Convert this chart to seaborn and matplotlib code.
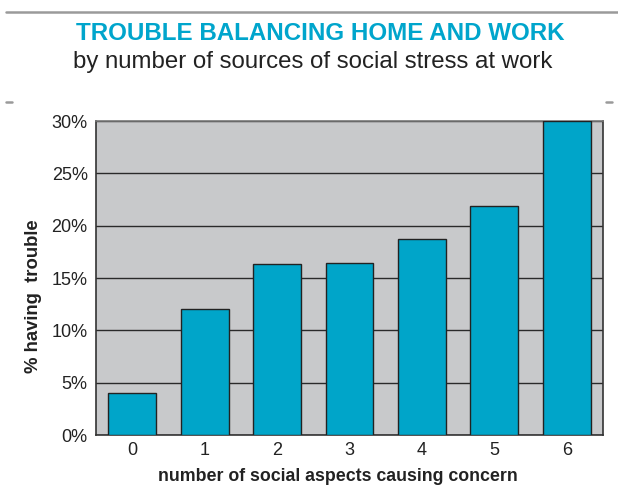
import matplotlib
matplotlib.use("Agg")
import matplotlib.pyplot as plt
from matplotlib.lines import Line2D
from matplotlib.ticker import FuncFormatter
import seaborn as sns
import pandas as pd

# Share of workers having trouble balancing home and work
sources = ["0", "1", "2", "3", "4", "5", "6"]
pct_trouble = [4.0, 12.0, 16.3, 16.4, 18.7, 21.9, 30.0]
y_ticks = [0, 5, 10, 15, 20, 25, 30]

df = pd.DataFrame({"sources": sources, "pct": pct_trouble})

sns.set_theme(style="white")
plt.rcParams["font.family"] = ["Liberation Sans", "DejaVu Sans"]

BAR = "#00a5c9"
BG = "#c8c9cb"
TITLE = "#00a5cc"

fig = plt.figure(figsize=(6.18, 4.94), dpi=100)
ax = fig.add_axes([96 / 618, 1 - 435 / 494, 507 / 618, 314 / 494])
ax.set_facecolor(BG)

sns.barplot(data=df, x="sources", y="pct", color=BAR, width=0.66,
            edgecolor="#222222", linewidth=1.0, saturation=1, ax=ax, zorder=3)

ax.set_ylim(0, 30)
ax.set_xlim(-0.5, 6.5)
ax.set_yticks(y_ticks)
ax.yaxis.set_major_formatter(FuncFormatter(lambda v, _: f"{v:.0f}%"))
ax.yaxis.grid(True, color="#2a2a2a", linewidth=1.0, zorder=1)
ax.set_axisbelow(True)
ax.tick_params(axis="both", length=0, labelsize=13, colors="#222222")
ax.tick_params(axis="x", pad=5)
ax.tick_params(axis="y", pad=6)

for side in ["left", "bottom", "right"]:
    ax.spines[side].set_color("#333333")
    ax.spines[side].set_linewidth(1.2)
ax.spines["top"].set_color("#777777")
ax.spines["top"].set_linewidth(1.2)

ax.set_xlabel("number of social aspects causing concern", fontsize=12.8,
              fontweight="semibold", color="#222222", labelpad=8)
ax.xaxis.set_label_coords(0.477, -0.105)
ax.set_ylabel("% having  trouble", fontsize=13.3, fontweight="bold",
              color="#222222", labelpad=10)
ax.yaxis.set_label_coords(-0.106, 0.443)

fig.text(320 / 618, 1 - 33 / 494, "TROUBLE BALANCING HOME AND WORK",
         ha="center", va="center", fontsize=17.4, fontweight="bold",
         color=TITLE)
fig.text(313 / 618, 1 - 62 / 494,
         "by number of sources of social stress at work",
         ha="center", va="center", fontsize=17.3, color="#222222")

# Decorative rules
fig.add_artist(Line2D([6 / 618, 1.0], [1 - 12 / 494] * 2, color="#9a9a9a",
                      linewidth=1.8, transform=fig.transFigure))
for x0 in (6, 606):
    fig.add_artist(Line2D([x0 / 618, (x0 + 6) / 618], [1 - 102 / 494] * 2,
                          color="#9a9a9a", linewidth=1.8,
                          transform=fig.transFigure))

fig.savefig("out.png", dpi=100)
